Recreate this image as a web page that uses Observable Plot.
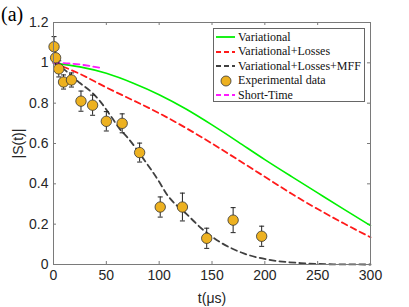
<!DOCTYPE html>
<html><head><meta charset="utf-8">
<script src="https://cdn.jsdelivr.net/npm/d3@7"></script>
<script src="https://cdn.jsdelivr.net/npm/@observablehq/plot@0.6"></script>
<style>
body{margin:0;background:#fff;}
#wrap{position:relative;width:409px;height:307px;overflow:hidden;background:#fff;}
#tag{position:absolute;left:1px;top:3px;font:20px "Liberation Serif",serif;color:#000;}
#legend{position:absolute;left:213px;top:28px;width:152px;height:74px;border:1px solid #666;background:#fff;font:12px "Liberation Serif",serif;color:#111;box-sizing:border-box;}
.row{position:absolute;left:0;height:14px;display:flex;align-items:center;white-space:nowrap;}
.row svg{margin-left:2px;margin-right:3px;}
</style></head>
<body><div id="wrap"><div id="tag">(a)</div></div>
<script>
// ---- data ----
const xTicks = [0, 50, 100, 150, 200, 250, 300];
const xTickLabels = ["0", "50", "100", "150", "200", "250", "300"];
const yTicks = [0, 0.2, 0.4, 0.6, 0.8, 1, 1.2];
const yTickLabels = ["0", "0.2", "0.4", "0.6", "0.8", "1", "1.2"];

const variationalT = [0, 25, 50, 75, 100, 125, 150, 175, 200, 225, 250, 275, 300];
const variationalY = [1.0, 0.98, 0.948, 0.9, 0.842, 0.772, 0.692, 0.607, 0.52, 0.437, 0.355, 0.273, 0.193];

const lossesT = [0, 25, 50, 75, 100, 125, 150, 175, 200, 225, 250, 275, 300];
const lossesY = [1.0, 0.945, 0.878, 0.815, 0.75, 0.678, 0.6, 0.518, 0.435, 0.352, 0.275, 0.203, 0.135];

const mffT = [0, 7, 14, 25, 37, 44, 55, 63, 70, 85, 100, 107, 126, 142, 158, 180, 202, 234, 265, 300];
const mffY = [1.0, 0.98, 0.95, 0.90, 0.85, 0.81, 0.73, 0.67, 0.63, 0.525, 0.41, 0.35, 0.25, 0.17, 0.11, 0.055, 0.025, 0.007, 0.001, 0.0];

const shortT = [0, 15, 30, 45];
const shortY = [1.0, 0.997, 0.988, 0.975];

const expT = [0.5, 2, 5, 9.5, 17, 26, 37, 50, 65, 81.5, 101, 122, 145, 170, 197];
const expY = [1.08, 1.025, 0.97, 0.905, 0.915, 0.81, 0.79, 0.71, 0.70, 0.555, 0.285, 0.285, 0.13, 0.22, 0.14];
const expErr = [0.05, 0.05, 0.04, 0.035, 0.035, 0.05, 0.05, 0.048, 0.047, 0.047, 0.05, 0.069, 0.05, 0.062, 0.05];

const seriesNames = ["Variational", "Variational+Losses", "Variational+Losses+MFF", "Experimental data", "Short-Time"];
const seriesColors = ["#00f000", "#ff1a1a", "#404040", "#EDB120", "#ff1aff"];

// ---- build ----
const zip = (T, Y) => T.map((t, i) => ({t, y: Y[i]}));
const variational = zip(variationalT, variationalY);
const losses = zip(lossesT, lossesY);
const mff = zip(mffT, mffY);
const shortTime = zip(shortT, shortY);
const exp = expT.map((t, i) => ({t, y: expY[i], e: expErr[i]}));

const capSymbol = {draw(ctx, size) { const w = Math.sqrt(size / Math.PI); ctx.moveTo(-w, 0); ctx.lineTo(w, 0); }};

const W = 409, H = 307, mL = 53, mR = 39, mT = 22, mB = 43;
const fw = W - mL - mR, fh = H - mT - mB;
const axisColor = "#7a7a7a";

const chart = Plot.plot({
  width: W, height: H,
  marginLeft: mL, marginRight: mR, marginTop: mT, marginBottom: mB,
  style: {fontFamily: "'Liberation Sans', Arial, sans-serif", fontSize: "14px", color: "#262626", background: "transparent"},
  x: {domain: [0, 300], ticks: xTicks, tickFormat: d => xTickLabels[xTicks.indexOf(d)], tickSize: 0, tickPadding: 6,
      label: "t(μs)", labelAnchor: "center", labelOffset: 38, labelArrow: "none"},
  y: {domain: [0, 1.2], ticks: yTicks, tickFormat: d => yTickLabels[yTicks.indexOf(d)], tickSize: 0, tickPadding: 5,
      label: "|S(t)|", labelAnchor: "center", labelOffset: 40, labelArrow: "none"},
  marks: [
    Plot.tickX(xTicks, {x: d => d, insetTop: fh - 3, stroke: axisColor}),
    Plot.tickX(xTicks, {x: d => d, insetBottom: fh - 3, stroke: axisColor}),
    Plot.tickY(yTicks, {y: d => d, insetRight: fw - 3, stroke: axisColor}),
    Plot.tickY(yTicks, {y: d => d, insetLeft: fw - 3, stroke: axisColor}),
    Plot.line(variational, {x: "t", y: "y", stroke: seriesColors[0], strokeWidth: 1.6, curve: "natural"}),
    Plot.line(losses, {x: "t", y: "y", stroke: seriesColors[1], strokeWidth: 1.8, strokeDasharray: "6,4", curve: "natural"}),
    Plot.line(mff, {x: "t", y: "y", stroke: seriesColors[2], strokeWidth: 1.8, strokeDasharray: "6,4", curve: "monotone-x"}),
    Plot.line(shortTime, {x: "t", y: "y", stroke: seriesColors[4], strokeWidth: 1.8, strokeDasharray: "6,4", curve: "natural"}),
    Plot.ruleX(exp, {x: "t", y1: d => d.y - d.e, y2: d => d.y + d.e, stroke: "#222", strokeWidth: 1}),
    Plot.dot(exp, {x: "t", y: d => d.y + d.e, symbol: capSymbol, r: 2.5, stroke: "#222", strokeWidth: 1}),
    Plot.dot(exp, {x: "t", y: d => d.y - d.e, symbol: capSymbol, r: 2.5, stroke: "#222", strokeWidth: 1}),
    Plot.dot(exp, {x: "t", y: "y", r: 5.2, fill: seriesColors[3], stroke: "#333", strokeWidth: 0.8}),
    Plot.frame({stroke: axisColor, strokeWidth: 1})
  ]
});
const wrap = document.getElementById("wrap");
wrap.insertBefore(chart, wrap.firstChild);
chart.style.position = "absolute"; chart.style.left = "0"; chart.style.top = "0";

// legend
const legend = document.createElement("div");
legend.id = "legend";
const styles = [
  {type: "line", dash: null}, {type: "line", dash: "5,3"}, {type: "line", dash: "5,3"}, {type: "dot"}, {type: "line", dash: "5,3"}
];
seriesNames.forEach((name, i) => {
  const row = document.createElement("div");
  row.className = "row";
  row.style.top = (1 + i * 14.6) + "px";
  const s = styles[i];
  let sw;
  if (s.type === "line") {
    sw = `<svg width="19" height="14"><line x1="0" x2="19" y1="7" y2="7" stroke="${seriesColors[i]}" stroke-width="1.8" ${s.dash ? `stroke-dasharray="${s.dash}"` : ""}/></svg>`;
  } else {
    sw = `<svg width="19" height="14"><circle cx="10" cy="7" r="5" fill="${seriesColors[i]}" stroke="#333" stroke-width="0.8"/></svg>`;
  }
  row.innerHTML = sw + `<span>${name}</span>`;
  legend.appendChild(row);
});
wrap.appendChild(legend);
</script>
</body></html>
